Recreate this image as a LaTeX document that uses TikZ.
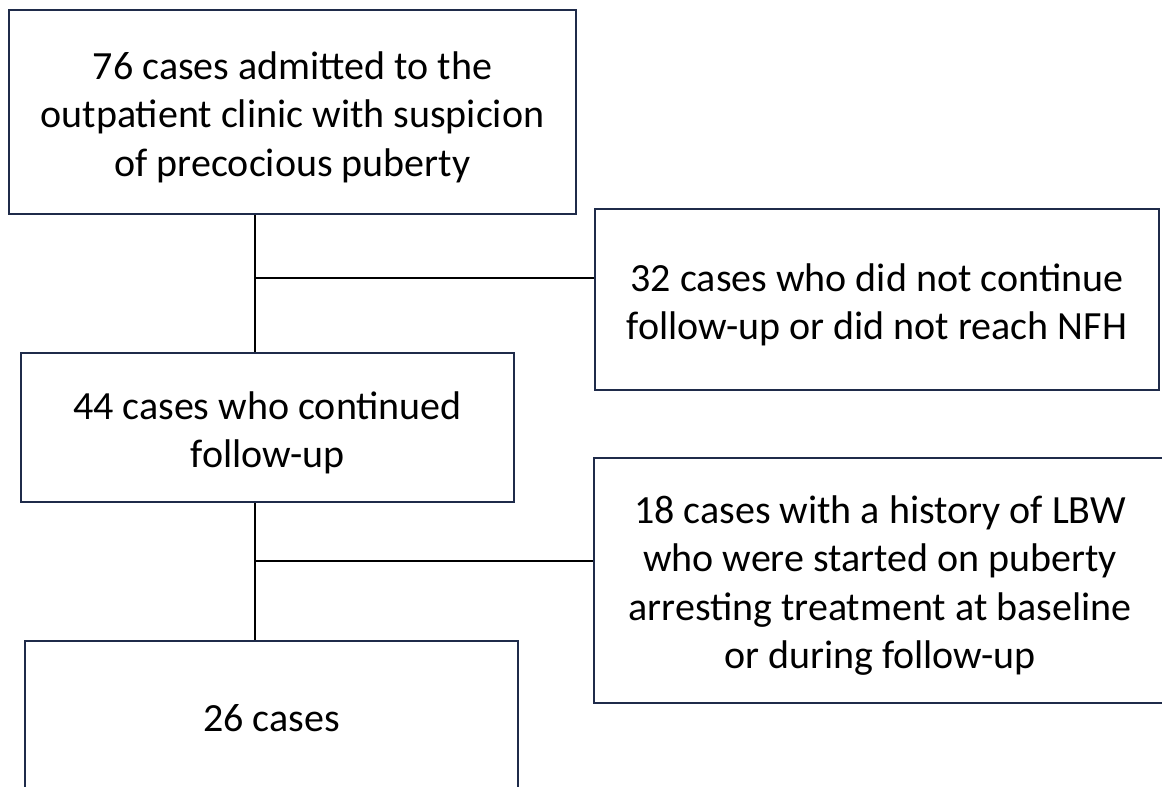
\documentclass[tikz,border=0pt]{standalone}
\usepackage{fontspec}
\setmainfont{Carlito}
\definecolor{boxline}{HTML}{1F2B4A}
\newcommand\dnstrut{\rule{0pt}{38pt}}
\begin{document}
\begin{tikzpicture}[x=1pt,y=-1pt,
  flowbox/.style={draw=boxline,line width=2pt,rectangle,inner sep=0pt,align=center,
    font=\fontsize{40}{48.5}\selectfont,text=black},
  link/.style={draw=black,line width=2pt}]
\clip (0,0) rectangle (1162,787);
\fill[white] (0,0) rectangle (1162,787);
\node[flowbox,minimum width=567pt,minimum height=204pt] (b1) at (292.5,112)
  {\dnstrut76 cases admitted to the\\outpatient clinic with suspicion\\of precocious puberty};
\node[flowbox,minimum width=564pt,minimum height=181pt] (b2) at (877,299.5)
  {\dnstrut32 cases who did not continue\\follow-up or did not reach NFH};
\node[flowbox,minimum width=493pt,minimum height=149pt] (b3) at (267.5,427.5)
  {\dnstrut44 cases who continued\\follow-up};
\node[flowbox,minimum width=572pt,minimum height=245pt] (b4) at (880,580.5)
  {\dnstrut18 cases with a history of LBW\\who were started on puberty\\arresting treatment at baseline\\or during follow-up};
\node[flowbox,minimum width=493pt,minimum height=154pt] (b5) at (271.5,718)
  {26 cases};
\coordinate (j1) at (255,278);
\coordinate (j2) at (255,561);
\draw[link] (b1.south -| j1) -- (b3.north -| j1);
\draw[link] (j1) -- (j1 -| b2.west);
\draw[link] (b3.south -| j2) -- (b5.north -| j2);
\draw[link] (j2) -- (j2 -| b4.west);
\end{tikzpicture}
\end{document}
